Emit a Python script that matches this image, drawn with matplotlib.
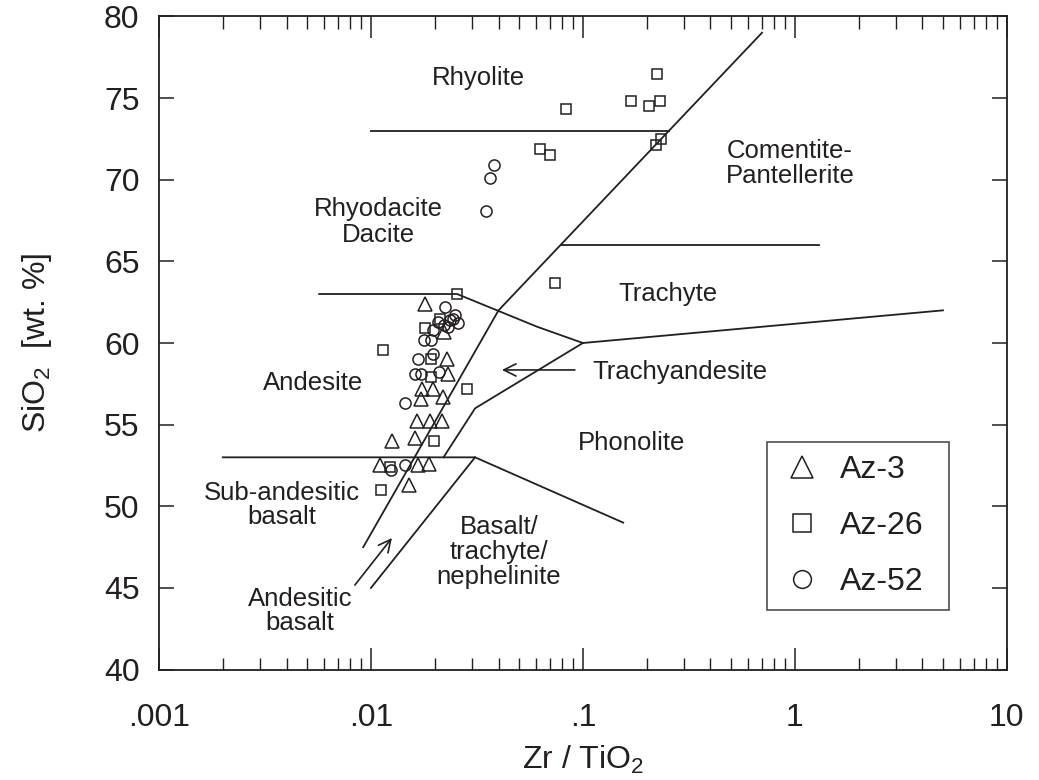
import numpy as np
import matplotlib.pyplot as plt
from matplotlib.ticker import FixedLocator, FixedFormatter, NullFormatter

plt.rcParams['font.family'] = ['Liberation Sans', 'DejaVu Sans']
plt.rcParams['mathtext.fontset'] = 'custom'
plt.rcParams['mathtext.rm'] = 'Liberation Sans'
plt.rcParams['mathtext.it'] = 'Liberation Sans:italic'

INK = '#231f20'

# samples: Zr/TiO2 and SiO2 (wt. %)
az3_x = [0.0180, 0.0221, 0.0228, 0.0232, 0.0175, 0.0197, 0.0172, 0.0219,
         0.0165, 0.0190, 0.0216, 0.0126, 0.0161, 0.0110, 0.0166, 0.0188, 0.0151]
az3_y = [62.4, 60.7, 59.0, 58.1, 57.2, 57.2, 56.6, 56.7,
         55.2, 55.2, 55.2, 54.0, 54.2, 52.5, 52.5, 52.6, 51.3]

az26_x = [0.223, 0.168, 0.205, 0.231, 0.083, 0.063, 0.070, 0.221, 0.233, 0.074,
          0.0254, 0.0114, 0.0283, 0.0198, 0.0123, 0.0112, 0.0180, 0.0212, 0.0193, 0.0193]
az26_y = [76.5, 74.8, 74.5, 74.8, 74.3, 71.9, 71.5, 72.1, 72.5, 63.7,
          63.0, 59.6, 57.2, 54.0, 52.4, 51.0, 60.9, 61.5, 59.0, 57.9]

az52_x = [0.0382, 0.0364, 0.0348, 0.0223, 0.0249, 0.0258, 0.0244, 0.0208, 0.0197,
          0.0178, 0.0193, 0.0167, 0.0197, 0.0161, 0.0173, 0.0210, 0.0145, 0.0124,
          0.0145, 0.0236, 0.0232, 0.0222]
az52_y = [70.9, 70.1, 68.1, 62.2, 61.7, 61.2, 61.5, 61.3, 60.8,
          60.2, 60.2, 59.0, 59.3, 58.1, 58.1, 58.2, 56.3, 52.2,
          52.5, 61.4, 61.0, 61.1]

# field boundaries (Winchester & Floyd)
main_x, main_y = [0.7, 0.04, 0.0092], [79, 62, 47.5]
rhy_x, rhy_y = [0.01, 0.255], [73, 73]
com_x, com_y = [0.079, 1.3], [66, 66]
and_x, and_y = [0.0057, 0.0255, 0.0607, 0.1, 5.0], [63, 63, 61, 60, 62]
tra_x, tra_y = [0.1, 0.031, 0.022], [60, 56, 53]
bas_x, bas_y = [0.002, 0.031, 0.155], [53, 53, 49]
nep_x, nep_y = [0.031, 0.01], [53, 45]

fig = plt.figure(figsize=(10.39, 7.8), dpi=100)
ax = fig.add_axes([0.153, 0.1415, 0.816, 0.8375])

for xs, ys in [(main_x, main_y), (rhy_x, rhy_y), (com_x, com_y), (and_x, and_y),
               (tra_x, tra_y), (bas_x, bas_y), (nep_x, nep_y)]:
    ax.plot(xs, ys, color=INK, lw=1.3, zorder=2)

mk = dict(ls='none', mfc='none', mec=INK, mew=1.1, zorder=3)
ax.plot(az3_x, az3_y, marker='^', ms=9.5, label='Az-3', **mk)
ax.plot(az26_x, az26_y, marker='s', ms=7.7, label='Az-26', **mk)
ax.plot(az52_x, az52_y, marker='o', ms=8, label='Az-52', **mk)

# field names
fs = 18.5
ax.text(0.032, 76.2, 'Rhyolite', fontsize=fs, ha='center', va='center', color=INK)
ax.text(0.475, 71.0, 'Comentite-\nPantellerite', fontsize=fs, ha='left', va='center',
        color=INK, linespacing=1.05)
ax.text(0.0109, 67.4, 'Rhyodacite\nDacite', fontsize=fs, ha='center', va='center',
        color=INK, linespacing=1.1)
ax.text(0.253, 63.0, 'Trachyte', fontsize=fs, ha='center', va='center', color=INK)
ax.text(0.00533, 57.55, 'Andesite', fontsize=fs, ha='center', va='center', color=INK)
ax.text(0.111, 58.2, 'Trachyandesite', fontsize=fs, ha='left', va='center', color=INK)
ax.text(0.17, 53.9, 'Phonolite', fontsize=fs, ha='center', va='center', color=INK)
ax.text(0.0402, 47.2, 'Basalt/\ntrachyte/\nnephelinite', fontsize=fs, ha='center',
        va='center', color=INK, linespacing=1.05)
ax.text(0.0038, 50.1, 'Sub-andesitic\nbasalt', fontsize=fs, ha='center', va='center',
        color=INK, linespacing=1.0)
ax.text(0.00462, 43.6, 'Andesitic\nbasalt', fontsize=fs, ha='center', va='center',
        color=INK, linespacing=1.0)

arrow = dict(arrowstyle='->', color=INK, lw=1.2, mutation_scale=22, shrinkA=0, shrinkB=0)
ax.annotate('', xy=(0.0415, 58.35), xytext=(0.0917, 58.35), arrowprops=arrow)
ax.annotate('', xy=(0.01256, 48.06), xytext=(0.0084, 45.18), arrowprops=arrow)

ax.set_xscale('log')
ax.set_xlim(0.001, 10)
ax.set_ylim(40, 80)
ax.xaxis.set_major_locator(FixedLocator([0.001, 0.01, 0.1, 1, 10]))
ax.xaxis.set_major_formatter(FixedFormatter(['.001', '.01', '.1', '1', '10']))
minors = [m * 10.0 ** e for e in range(-3, 1) for m in range(2, 10)]
ax.xaxis.set_minor_locator(FixedLocator(minors))
ax.xaxis.set_minor_formatter(NullFormatter())
ax.set_yticks(np.arange(40, 81, 5))

ax.tick_params(axis='both', which='both', direction='in', top=True, right=True,
               colors=INK, labelsize=23)
ax.tick_params(axis='x', which='major', length=16, width=1.1, pad=24)
ax.tick_params(axis='x', which='minor', length=9, width=1.0)
ax.tick_params(axis='y', which='major', length=11, width=1.1, pad=14)
for s in ax.spines.values():
    s.set_linewidth(1.3)
    s.set_color(INK)

ax.set_xlabel('Zr / TiO$_2$', fontsize=23, color=INK, labelpad=8)
ax.set_ylabel('SiO$_2$  [wt. %]', fontsize=23, color=INK, labelpad=36)

leg = ax.legend(loc='lower left', bbox_to_anchor=(0.717, 0.0912, 0.2146, 0.26),
                mode='expand', borderaxespad=0,
                fontsize=23, markerscale=1.6, frameon=True, fancybox=False,
                edgecolor=INK, handlelength=1.4, handletextpad=0.5, borderpad=0.4,
                labelspacing=0.82)
leg.get_frame().set_linewidth(1.2)
for t in leg.get_texts():
    t.set_color(INK)

fig.savefig('out.png', dpi=100)
